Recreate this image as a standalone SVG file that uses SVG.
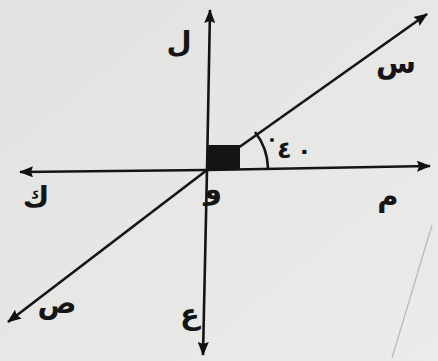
<svg xmlns="http://www.w3.org/2000/svg" width="438" height="361" viewBox="0 0 438 361">
<defs>
<marker id="ah" viewBox="0 0 14 11" refX="13" refY="5.5" markerWidth="14" markerHeight="11" markerUnits="userSpaceOnUse" orient="auto-start-reverse">
<path d="M0,0 L14,5.5 L0,11 L2,5.5 z" fill="#111"/>
</marker>
<linearGradient id="bg" x1="0" y1="0" x2="1" y2="1">
<stop offset="0" stop-color="#e2e2e0"/>
<stop offset="1" stop-color="#ebebe9"/>
</linearGradient>
</defs>
<style>
.ln{stroke:#141414;stroke-width:2.6;fill:none}
.lb{font-family:"DejaVu Sans",sans-serif;font-size:29px;fill:#151515;text-anchor:middle;font-weight:bold}
.num{font-family:"DejaVu Sans",sans-serif;font-size:24px;fill:#151515;font-weight:bold}
</style>
<rect width="438" height="361" fill="url(#bg)"/>
<line x1="432" y1="225" x2="392" y2="358" stroke="#b8b8bc" stroke-width="1.2"/>
<g id="connectors">
<line class="ln" x1="207" y1="170" x2="210" y2="10" marker-end="url(#ah)"/>
<line class="ln" x1="207" y1="170" x2="203" y2="355" marker-end="url(#ah)"/>
<line class="ln" x1="207" y1="170" x2="20" y2="172" marker-end="url(#ah)"/>
<line class="ln" x1="207" y1="170" x2="430" y2="166" marker-end="url(#ah)"/>
<line class="ln" x1="207" y1="170" x2="427" y2="14" marker-end="url(#ah)"/>
<line class="ln" x1="207" y1="170" x2="8" y2="322" marker-end="url(#ah)"/>
</g>
<g id="right-angle"><rect x="207" y="145" width="33" height="25" fill="#141414"/></g>
<g id="angle-40">
<path class="ln" d="M255,132 A61,61 0 0 1 268,168" stroke-width="2.2"/>
<circle cx="272" cy="140" r="2" fill="#151515"/>
<text class="num" x="277" y="158">٤</text>
<text class="num" x="297" y="159">٠</text>
</g>
<g id="label-L"><text class="lb" x="179" y="52">ل</text></g>
<g id="label-S"><text class="lb" x="396" y="73">س</text></g>
<g id="label-K"><text class="lb" x="36" y="207">ك</text></g>
<g id="label-W"><text class="lb" x="213" y="199">و</text></g>
<g id="label-M"><text class="lb" x="388" y="206">م</text></g>
<g id="label-Sad"><text class="lb" x="57" y="313">ص</text></g>
<g id="label-Ain"><text class="lb" x="190" y="324">ع</text></g>
</svg>
